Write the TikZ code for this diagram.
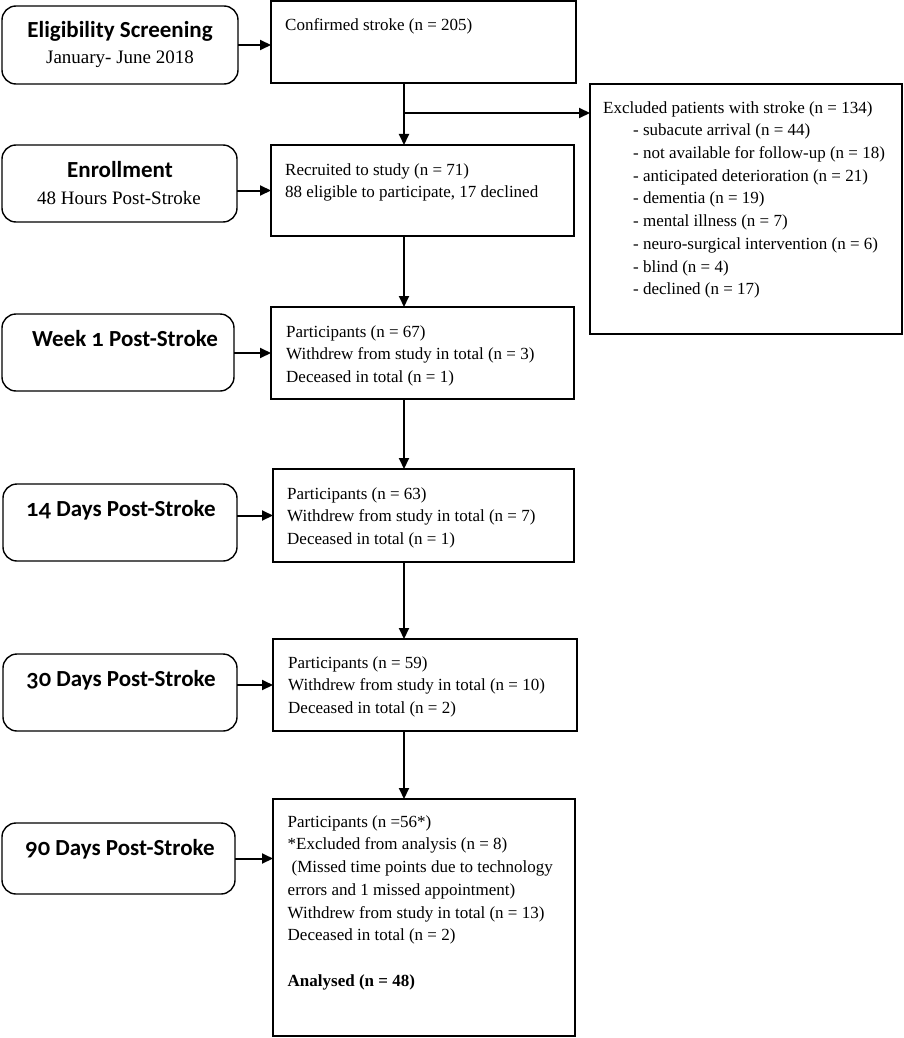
\documentclass[tikz,border=0pt]{standalone}
\usepackage{fontspec}
\setmainfont{Liberation Serif}
\newfontfamily\titlefont{Carlito}
\newfontfamily\onumfont[Numbers=OldStyle]{Lato}
\newcommand{\od}[1]{{\onumfont\bfseries #1}}
\usetikzlibrary{arrows.meta}
\begin{document}
\begin{tikzpicture}[x=1pt,y=-1pt,
  lbox/.style={draw,line width=1.4pt,rounded corners=14pt,anchor=north west,inner sep=0pt,outer sep=0pt},
  rbox/.style={draw,line width=1.4pt,anchor=north west,inner sep=0pt,outer sep=0pt},
  body/.style={anchor=north west,inner sep=0pt,align=left,font=\fontsize{17}{22.7}\selectfont},
  ttl/.style={anchor=base,inner sep=0pt,font=\titlefont\bfseries\fontsize{23}{27}\selectfont},
  sub/.style={anchor=base,inner sep=0pt,font=\fontsize{19}{22}\selectfont},
  arr/.style={line width=2pt,-{Triangle[length=11pt,width=10pt]}}]
\useasboundingbox (0,0) rectangle (903,1038);

% left rounded boxes
\node[lbox,minimum width=236pt,minimum height=78pt] (l1) at (2,6) {};
\node[lbox,minimum width=235pt,minimum height=77pt] (l2) at (2,145) {};
\node[lbox,minimum width=232pt,minimum height=77pt] (l3) at (2,314) {};
\node[lbox,minimum width=234pt,minimum height=77pt] (l4) at (3,484) {};
\node[lbox,minimum width=234pt,minimum height=77pt] (l5) at (3,654) {};
\node[lbox,minimum width=233pt,minimum height=71pt] (l6) at (2,823) {};

% left titles
\node[ttl] (t1) at (120,37.5) {Eligibility Screening};
\node[sub] (s1) at (120,64) {January- June 2018};
\node[ttl] (t2) at (120,177) {Enrollment};
\node[sub] (s2) at (119,204) {48 Hours Post-Stroke};
\node[ttl] (t3) at (125,346) {Week \od{1} Post-Stroke};
\node[ttl] (t4) at (121,516) {\od{14} Days Post-Stroke};
\node[ttl] (t5) at (121,686) {\od{30} Days Post-Stroke};
\node[ttl] (t6) at (120,855) {\od{90} Days Post-Stroke};

% right boxes
\node[rbox,minimum width=305pt,minimum height=82pt] (r1) at (271,1) {};
\node[rbox,minimum width=303pt,minimum height=91pt] (r2) at (271,145) {};
\node[rbox,minimum width=303pt,minimum height=92pt] (r3) at (271,307) {};
\node[rbox,minimum width=301pt,minimum height=93pt] (r4) at (273,469) {};
\node[rbox,minimum width=304pt,minimum height=92pt] (r5) at (273,639) {};
\node[rbox,minimum width=302pt,minimum height=237pt] (r6) at (273,799) {};
\node[rbox,minimum width=312pt,minimum height=250pt] (ex) at (590,84) {};

% right texts
\node[body] (b1) at (285,18.2) {Confirmed stroke (n = 205)};
\node[body] (b2) at (285,163.2) {Recruited to study (n = 71)\\88 eligible to participate, 17 declined};
\node[body] (b3) at (286,325.2) {Participants (n = 67)\\Withdrew from study in total (n = 3)\\Deceased in total (n = 1)};
\node[body] (b4) at (287,487.2) {Participants (n = 63)\\Withdrew from study in total (n = 7)\\Deceased in total (n = 1)};
\node[body] (b5) at (288,656.2) {Participants (n = 59)\\Withdrew from study in total (n = 10)\\Deceased in total (n = 2)};
\node[body] (b6) at (287.5,815.2) {Participants (n =56*)\\*Excluded from analysis (n = 8)\\\hspace*{4pt}(Missed time points due to technology\\errors and 1 missed appointment)\\Withdrew from study in total (n = 13)\\Deceased in total (n = 2)\\[22.7pt]\textbf{Analysed (n = 48)}};
\node[body] (bx) at (603,101.2) {Excluded patients with stroke (n = 134)\\
\hspace*{30pt}- subacute arrival (n = 44)\\
\hspace*{30pt}- not available for follow-up (n = 18)\\
\hspace*{30pt}- anticipated deterioration (n = 21)\\
\hspace*{30pt}- dementia (n = 19)\\
\hspace*{30pt}- mental illness (n = 7)\\
\hspace*{30pt}- neuro-surgical intervention (n = 6)\\
\hspace*{30pt}- blind (n = 4)\\
\hspace*{30pt}- declined (n = 17)};

% horizontal arrows
\draw[arr] (l1.east) -- (l1.east -| r1.west);
\draw[arr] (l2.east |- r2.west) -- (r2.west);
\draw[arr] (l3.east |- r3.west) -- (r3.west);
\draw[arr] (l4.east |- r4.west) -- (r4.west);
\draw[arr] (l5.east |- r5.west) -- (r5.west);
\draw[arr] (l6.east) -- (l6.east -| r6.west);

% vertical spine
\coordinate (sp) at (404,0);
\coordinate (br) at (404,113);
\draw[arr] (r1.south -| sp) -- (r2.north -| sp);
\draw[arr] (br) -- (br -| ex.west);
\draw[arr] (r2.south -| sp) -- (r3.north -| sp);
\draw[arr] (r3.south -| sp) -- (r4.north -| sp);
\draw[arr] (r4.south -| sp) -- (r5.north -| sp);
\draw[arr] (r5.south -| sp) -- (r6.north -| sp);
\end{tikzpicture}
\end{document}
